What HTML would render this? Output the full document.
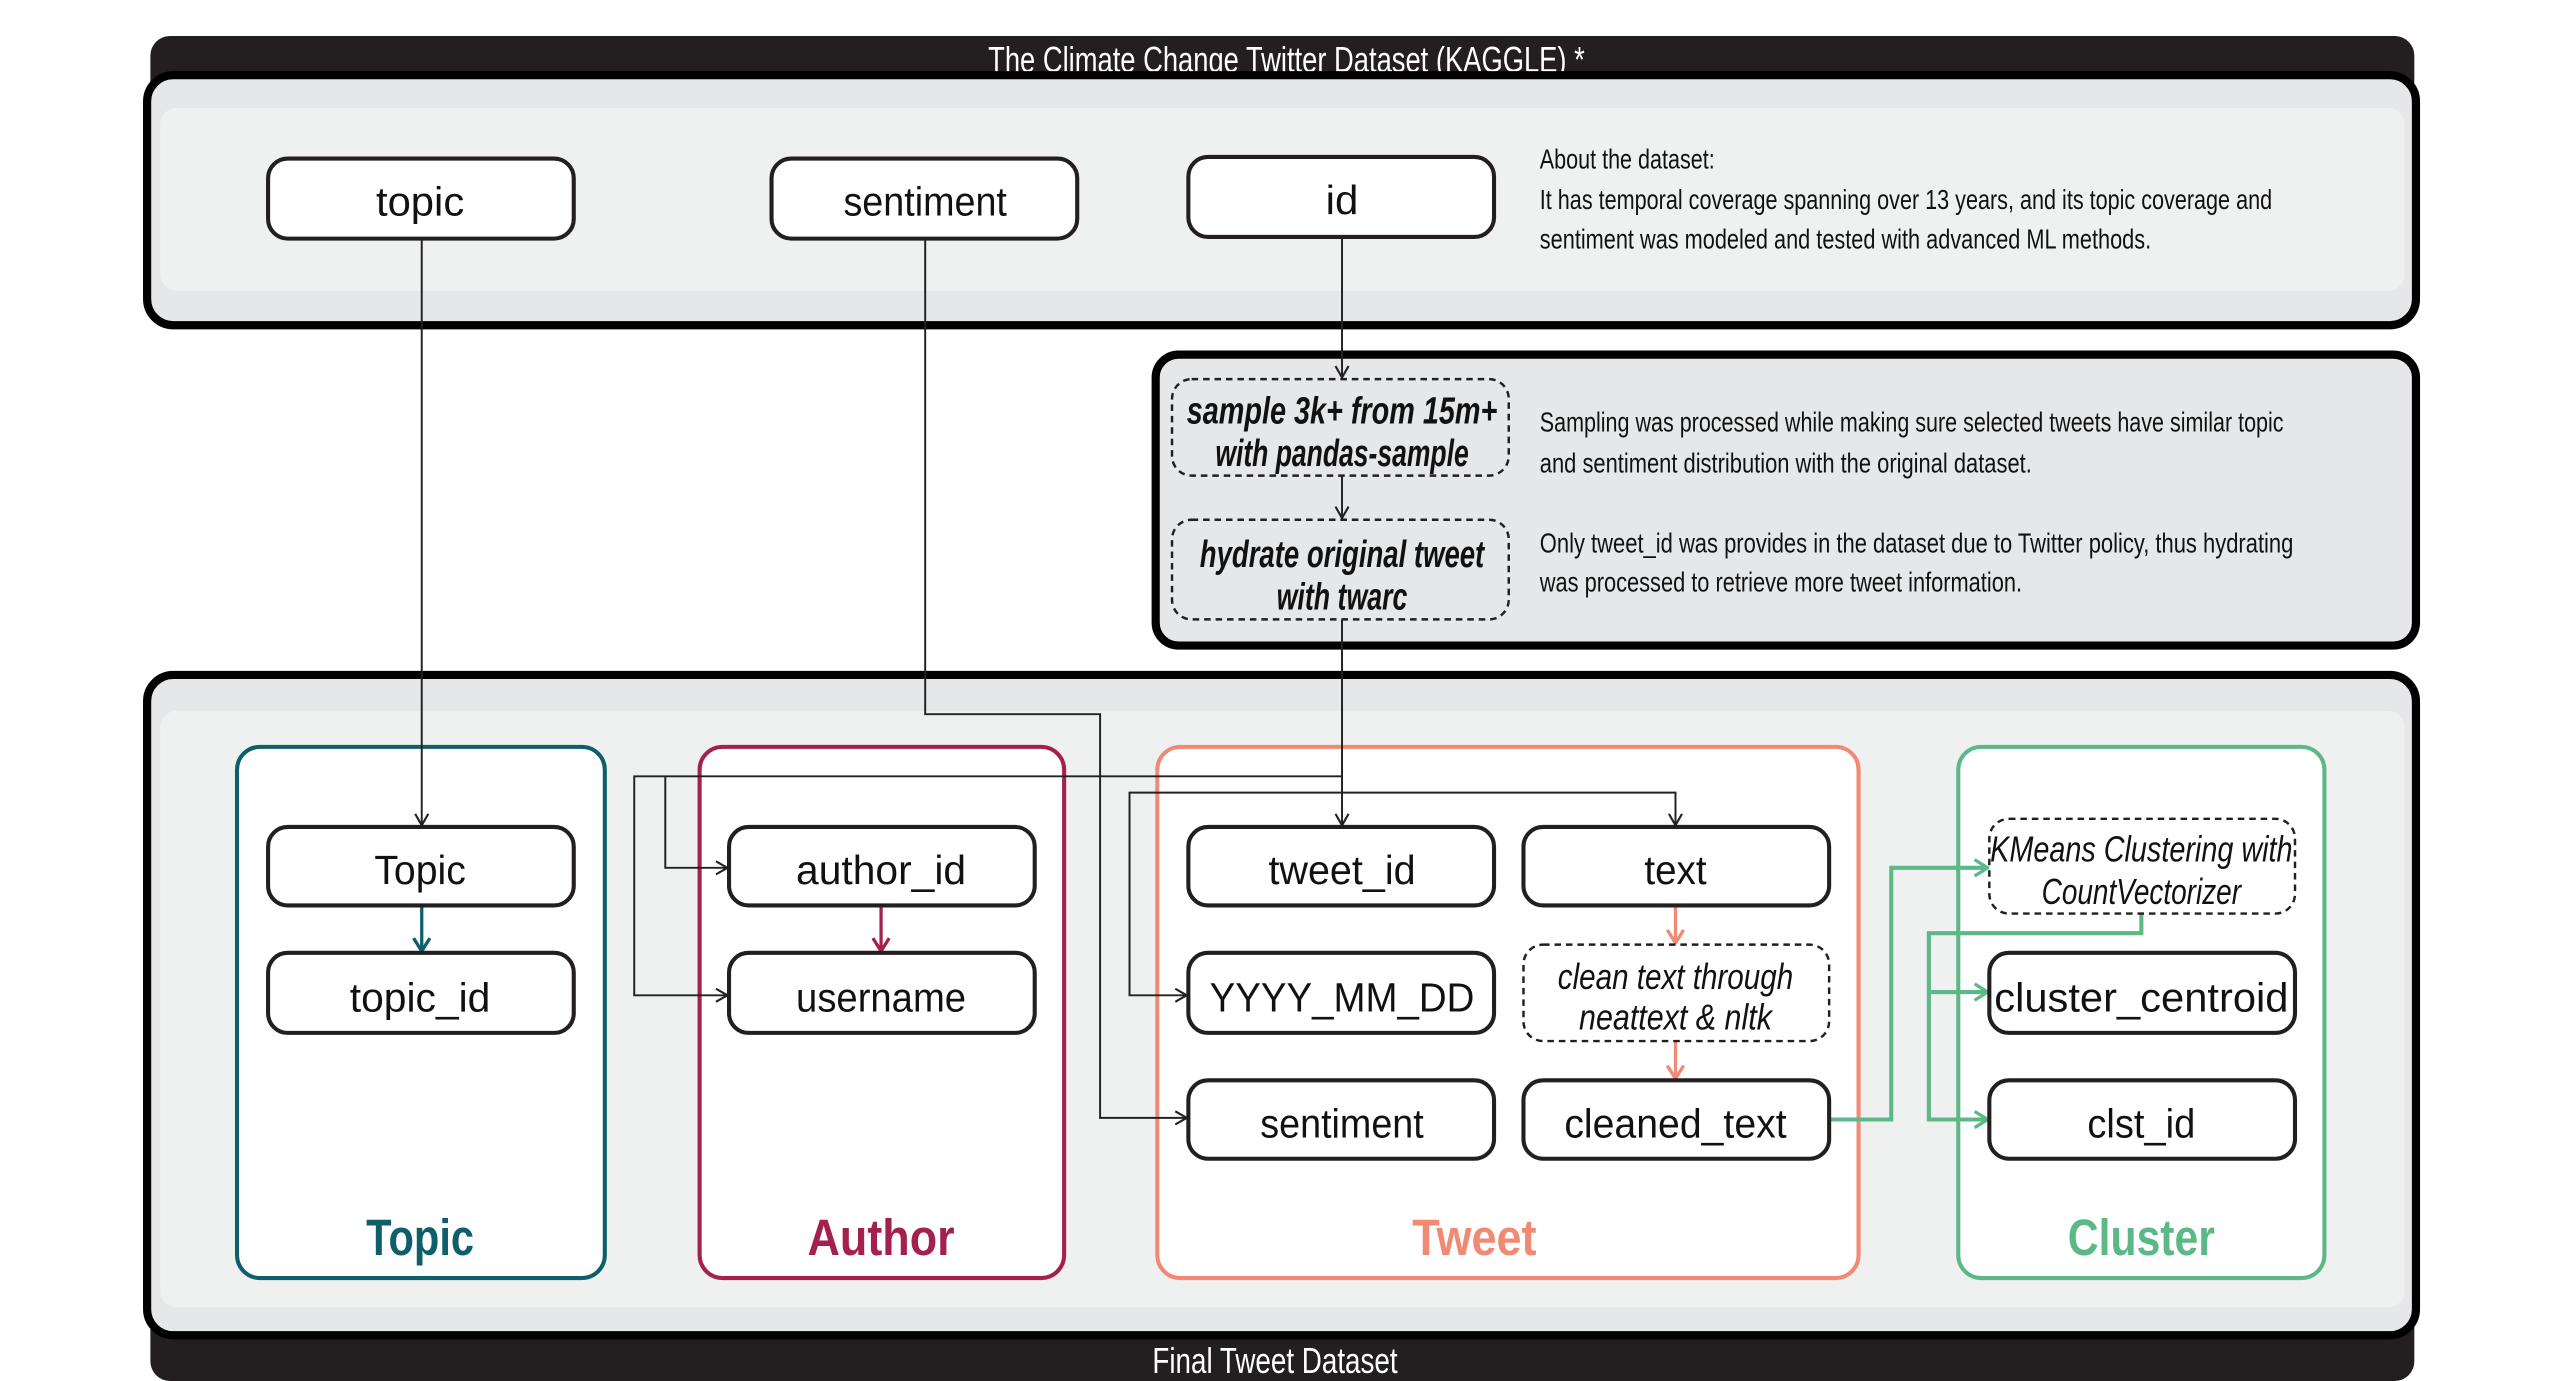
<!DOCTYPE html>
<html><head><meta charset="utf-8"><style>html,body{margin:0;padding:0;background:#fff}svg{display:block}</style></head>
<body>
<svg width="2550" height="1381" viewBox="0 0 1560 845" preserveAspectRatio="none" xmlns="http://www.w3.org/2000/svg" font-family="'Liberation Sans Narrow','Liberation Sans',sans-serif">
<defs>
<marker id="ab" markerWidth="10" markerHeight="10" refX="8" refY="5" orient="auto" markerUnits="userSpaceOnUse"><path d="M1,1 L8,5 L1,9" fill="none" stroke="#222" stroke-width="1.3"/></marker>
<marker id="at" markerWidth="12" markerHeight="12" refX="9" refY="6" orient="auto" markerUnits="userSpaceOnUse"><path d="M1,1 L9,6 L1,11" fill="none" stroke="#0e5f6b" stroke-width="2"/></marker>
<marker id="ar" markerWidth="12" markerHeight="12" refX="9" refY="6" orient="auto" markerUnits="userSpaceOnUse"><path d="M1,1 L9,6 L1,11" fill="none" stroke="#a3204f" stroke-width="2"/></marker>
<marker id="as" markerWidth="12" markerHeight="12" refX="9" refY="6" orient="auto" markerUnits="userSpaceOnUse"><path d="M1,1 L9,6 L1,11" fill="none" stroke="#f08a74" stroke-width="2"/></marker>
<marker id="ag" markerWidth="12" markerHeight="12" refX="9" refY="6" orient="auto" markerUnits="userSpaceOnUse"><path d="M1,1 L9,6 L1,11" fill="none" stroke="#5cb887" stroke-width="2"/></marker>
</defs>

<!-- top section -->
<rect x="92" y="22" width="1385" height="40" rx="12" fill="#231f20"/>
<text x="787" y="44" fill="#fff" font-size="22" text-anchor="middle" textLength="365" lengthAdjust="spacingAndGlyphs">The Climate Change Twitter Dataset (KAGGLE) *</text>
<rect x="90" y="46" width="1388" height="153" rx="16" fill="#e6e7e8" stroke="#000" stroke-width="5"/>
<rect x="98" y="66" width="1373" height="112" rx="10" fill="#eff0f0"/>

<g stroke="#231f20" stroke-width="2.5" fill="#fff">
<rect x="164" y="97" width="187" height="49" rx="12"/>
<rect x="472" y="97" width="187" height="49" rx="12"/>
<rect x="727" y="96" width="187" height="49" rx="12"/>
</g>
<g font-size="25" fill="#111" text-anchor="middle" lengthAdjust="spacingAndGlyphs">
<text x="257" y="132" textLength="54" lengthAdjust="spacingAndGlyphs">topic</text>
<text x="566" y="132" textLength="100" lengthAdjust="spacingAndGlyphs">sentiment</text>
<text x="821" y="131" textLength="20" lengthAdjust="spacingAndGlyphs">id</text>
</g>
<g font-size="17" fill="#111">
<text x="942" y="103" textLength="107" lengthAdjust="spacingAndGlyphs">About the dataset:</text>
<text x="942" y="128" textLength="448" lengthAdjust="spacingAndGlyphs">It has temporal coverage spanning over 13 years, and its topic coverage and</text>
<text x="942" y="152" textLength="374" lengthAdjust="spacingAndGlyphs">sentiment was modeled and tested with advanced ML methods.</text>
</g>

<!-- middle section -->
<rect x="707" y="217" width="771" height="178" rx="14" fill="#e6e7e8" stroke="#000" stroke-width="5"/>
<g stroke="#231f20" stroke-width="1.5" fill="none" stroke-dasharray="4 3">
<rect x="717" y="232" width="206" height="59" rx="12"/>
<rect x="717" y="318" width="206" height="61" rx="12"/>
</g>
<g font-size="23" fill="#111" text-anchor="middle" font-style="italic" font-weight="bold">
<text x="821" y="259" textLength="190" lengthAdjust="spacingAndGlyphs">sample 3k+ from 15m+</text>
<text x="821" y="285" textLength="155" lengthAdjust="spacingAndGlyphs">with pandas-sample</text>
<text x="821" y="347" textLength="174" lengthAdjust="spacingAndGlyphs">hydrate original tweet</text>
<text x="821" y="373" textLength="80" lengthAdjust="spacingAndGlyphs">with twarc</text>
</g>
<g font-size="17" fill="#111">
<text x="942" y="264" textLength="455" lengthAdjust="spacingAndGlyphs">Sampling was processed while making sure selected tweets have similar topic</text>
<text x="942" y="289" textLength="301" lengthAdjust="spacingAndGlyphs">and sentiment distribution with the original dataset.</text>
<text x="942" y="338" textLength="461" lengthAdjust="spacingAndGlyphs">Only tweet_id was provides in the dataset due to Twitter policy, thus hydrating</text>
<text x="942" y="362" textLength="295" lengthAdjust="spacingAndGlyphs">was processed to retrieve more tweet information.</text>
</g>

<!-- bottom section -->
<rect x="92" y="800" width="1385" height="45" rx="12" fill="#231f20"/>
<rect x="90" y="413" width="1388" height="404" rx="16" fill="#e6e7e8" stroke="#000" stroke-width="5"/>
<rect x="98" y="435" width="1373" height="365" rx="10" fill="#eff0f0"/>
<text x="780" y="840" fill="#fff" font-size="22" text-anchor="middle" textLength="150" lengthAdjust="spacingAndGlyphs">Final Tweet Dataset</text>

<g fill="#fff" stroke-width="2.5">
<rect x="145" y="457" width="225" height="325" rx="14" stroke="#0e5f6b"/>
<rect x="428" y="457" width="223" height="325" rx="14" stroke="#a3204f"/>
<rect x="708" y="457" width="429" height="325" rx="14" stroke="#f08a74"/>
<rect x="1198" y="457" width="224" height="325" rx="14" stroke="#5cb887"/>
</g>
<g font-size="31" font-weight="bold" text-anchor="middle">
<text x="257" y="768" fill="#0e5f6b" textLength="66" lengthAdjust="spacingAndGlyphs">Topic</text>
<text x="539" y="768" fill="#a3204f" textLength="90" lengthAdjust="spacingAndGlyphs">Author</text>
<text x="902" y="768" fill="#f08a74" textLength="76" lengthAdjust="spacingAndGlyphs">Tweet</text>
<text x="1310" y="768" fill="#5cb887" textLength="90" lengthAdjust="spacingAndGlyphs">Cluster</text>
</g>

<!-- connectors (black) -->
<g stroke="#222" stroke-width="1.2" fill="none">
<path d="M258,146 V505" marker-end="url(#ab)"/>
<path d="M566,146 V437 H673 V684 H726" marker-end="url(#ab)"/>
<path d="M821,145 V231" marker-end="url(#ab)"/>
<path d="M821,291 V317" marker-end="url(#ab)"/>
<path d="M821,379 V505" marker-end="url(#ab)"/>
<path d="M821,475 H388 V609 H445" marker-end="url(#ab)"/>
<path d="M407,475 V531 H445" marker-end="url(#ab)"/>
<path d="M821,485 H691 V609 H726" marker-end="url(#ab)"/>
<path d="M821,485 H1025 V505" marker-end="url(#ab)"/>
</g>
<g stroke-width="2" fill="none">
<path d="M258,554 V582" stroke="#0e5f6b" marker-end="url(#at)"/>
<path d="M539,554 V582" stroke="#a3204f" marker-end="url(#ar)"/>
<path d="M1025,554 V577" stroke="#f08a74" marker-end="url(#as)"/>
<path d="M1025,637 V660" stroke="#f08a74" marker-end="url(#as)"/>
<path d="M1119,685 H1157 V531 H1216" stroke="#5cb887" stroke-width="2.5" marker-end="url(#ag)"/>
<path d="M1310,559 V571 H1180 V685 H1216" stroke="#5cb887" stroke-width="2.5" marker-end="url(#ag)"/>
<path d="M1180,607 H1216" stroke="#5cb887" stroke-width="2.5" marker-end="url(#ag)"/>
</g>

<!-- nodes -->
<g stroke="#231f20" stroke-width="2.5" fill="#fff">
<rect x="164" y="506" width="187" height="48" rx="12"/>
<rect x="164" y="583" width="187" height="49" rx="12"/>
<rect x="446" y="506" width="187" height="48" rx="12"/>
<rect x="446" y="583" width="187" height="49" rx="12"/>
<rect x="727" y="506" width="187" height="48" rx="12"/>
<rect x="932" y="506" width="187" height="48" rx="12"/>
<rect x="727" y="583" width="187" height="49" rx="12"/>
<rect x="727" y="661" width="187" height="48" rx="12"/>
<rect x="932" y="661" width="187" height="48" rx="12"/>
<rect x="1217" y="583" width="187" height="49" rx="12"/>
<rect x="1217" y="661" width="187" height="48" rx="12"/>
</g>
<g stroke="#231f20" stroke-width="1.5" fill="#fff" stroke-dasharray="4 3">
<rect x="932" y="578" width="187" height="59" rx="12"/>
<rect x="1217" y="501" width="187" height="58" rx="12"/>
</g>
<g font-size="25" fill="#111" text-anchor="middle">
<text x="257" y="541" textLength="56" lengthAdjust="spacingAndGlyphs">Topic</text>
<text x="257" y="619" textLength="86" lengthAdjust="spacingAndGlyphs">topic_id</text>
<text x="539" y="541" textLength="104" lengthAdjust="spacingAndGlyphs">author_id</text>
<text x="539" y="619" textLength="104" lengthAdjust="spacingAndGlyphs">username</text>
<text x="821" y="541" textLength="90" lengthAdjust="spacingAndGlyphs">tweet_id</text>
<text x="1025" y="541" textLength="38" lengthAdjust="spacingAndGlyphs">text</text>
<text x="821" y="619" textLength="162" lengthAdjust="spacingAndGlyphs">YYYY_MM_DD</text>
<text x="821" y="696" textLength="100" lengthAdjust="spacingAndGlyphs">sentiment</text>
<text x="1025" y="696" textLength="136" lengthAdjust="spacingAndGlyphs">cleaned_text</text>
<text x="1310" y="619" textLength="180" lengthAdjust="spacingAndGlyphs">cluster_centroid</text>
<text x="1310" y="696" textLength="66" lengthAdjust="spacingAndGlyphs">clst_id</text>
</g>
<g font-size="22" fill="#111" text-anchor="middle" font-style="italic">
<text x="1025" y="605" textLength="144" lengthAdjust="spacingAndGlyphs">clean text through</text>
<text x="1025" y="630" textLength="118" lengthAdjust="spacingAndGlyphs">neattext &amp; nltk</text>
<text x="1310" y="527" textLength="185" lengthAdjust="spacingAndGlyphs">KMeans Clustering with</text>
<text x="1310" y="553" textLength="122" lengthAdjust="spacingAndGlyphs">CountVectorizer</text>
</g>
</svg>
</body></html>
